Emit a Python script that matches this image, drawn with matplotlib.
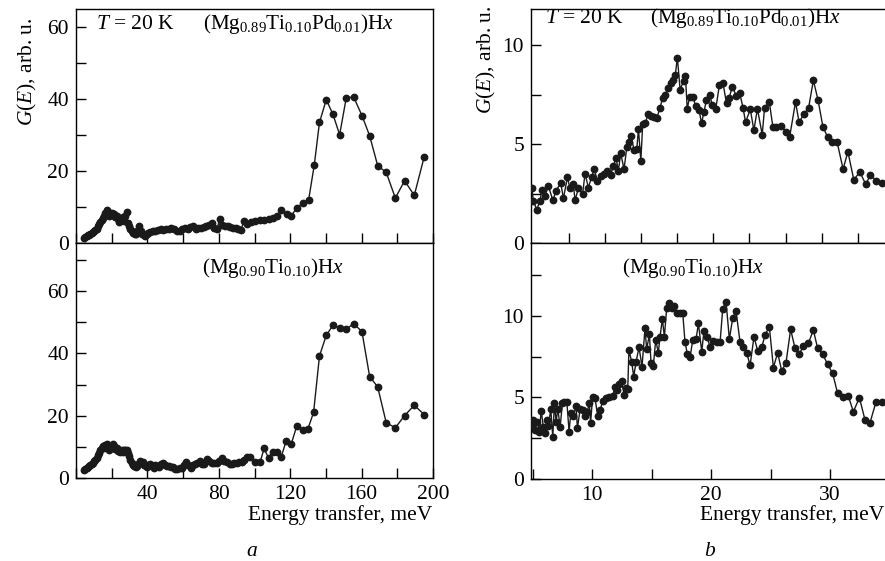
import numpy as np
import matplotlib
matplotlib.use('Agg')
import matplotlib.pyplot as plt
from matplotlib.ticker import MultipleLocator, FixedLocator

plt.rcParams['font.family'] = 'Liberation Serif'
plt.rcParams['mathtext.fontset'] = 'custom'
plt.rcParams['mathtext.rm'] = 'Liberation Serif'
plt.rcParams['mathtext.it'] = 'Liberation Serif:italic'
plt.rcParams['font.size'] = 15.5

# (Mg0.89Ti0.10Pd0.01)Hx, wide energy range (panel a, top)
tl_e = [4.5, 5.2, 6.0, 6.7, 7.4, 8.1, 8.8, 9.5, 10.2, 10.9, 11.6, 12.3, 13.0, 13.7,
        14.4, 15.1, 15.8, 16.5, 17.2, 17.9, 18.6, 19.3, 20.0, 20.7, 21.4, 22.1, 22.8,
        23.5, 24.2, 24.9, 25.6, 26.3, 27.0, 27.7, 28.4, 29.0, 29.7, 30.5, 31.3, 32.1,
        33.0, 33.8, 34.6, 35.4, 36.2, 37.0, 37.9, 38.8, 39.7, 40.6, 41.5, 43.0, 44.5,
        46.0, 47.5, 49.0, 50.5, 52.0, 53.5, 55.0, 56.5, 58.0, 59.5, 61.0, 62.5, 64.0,
        65.5, 67.0, 68.5, 70.0, 71.5, 73.0, 74.5, 76.0, 77.5, 79.0, 80.5, 82.0, 83.5,
        85.0, 86.5, 88.0, 89.5, 91.0, 92.5, 94.0, 96.0, 98.0, 100.4, 103.2, 105.4,
        107.9, 110.1, 112.5, 115.0, 118.0, 120.7, 123.7, 126.9, 130.3, 133.5, 136.4,
        140.2, 143.9, 147.7, 151.4, 155.5, 160.2, 164.5, 169.0, 173.8, 178.9, 184.1,
        189.5, 195.1]
tl_g = [1.5, 1.8, 2.0, 2.2, 2.3, 2.6, 2.8, 3.0, 3.2, 3.6, 4.0, 4.6, 5.2, 5.9,
        6.5, 7.0, 7.6, 8.4, 9.2, 8.0, 7.5, 8.2, 8.4, 7.8, 8.0, 7.3, 7.6,
        6.6, 5.8, 6.8, 6.4, 7.2, 6.2, 7.4, 8.6, 5.6, 4.6, 3.8, 3.2, 2.8,
        2.6, 2.4, 3.6, 4.6, 3.4, 2.6, 2.3, 2.0, 2.4, 2.8, 3.0, 3.2, 3.4,
        3.6, 3.8, 3.5, 3.9, 4.0, 4.2, 3.8, 3.4, 3.3, 3.8, 4.3, 4.0, 4.4,
        4.6, 3.9, 4.1, 4.3, 4.4, 4.8, 5.1, 5.5, 4.1, 4.0, 6.6, 5.0, 4.7,
        4.6, 4.5, 4.3, 4.2, 3.9, 3.6, 6.2, 5.2, 5.9, 6.2, 6.5, 6.4,
        6.7, 6.9, 7.4, 9.2, 8.1, 7.6, 9.8, 11.0, 11.9, 21.7, 33.5,
        39.8, 35.8, 30.1, 40.3, 40.6, 35.4, 29.8, 21.5, 19.6, 12.5, 17.3,
        13.2, 24.0]

# (Mg0.90Ti0.10)Hx, wide energy range (panel a, bottom)
bl_e = [4.5, 5.2, 5.9, 6.6, 7.3, 8.0, 8.7, 9.4, 10.1, 10.8, 11.5, 12.2, 12.9, 13.6,
        14.3, 15.0, 15.7, 16.4, 17.1, 17.8, 18.5, 19.2, 19.9, 20.6, 21.3, 22.0, 22.7,
        23.4, 24.1, 24.8, 25.5, 26.2, 26.9, 27.6, 28.3, 29.0, 29.7, 30.4, 31.1, 31.8,
        32.6, 33.4, 34.2, 35.0, 35.8, 36.6, 37.4, 38.2, 39.0, 39.8, 40.6, 41.5, 42.5,
        43.5, 44.5, 45.5, 46.5, 47.5, 48.6, 49.6, 50.8, 52.0, 53.2, 54.4, 55.6, 56.8,
        58.0, 59.3, 60.5, 61.7, 63.0, 64.3, 65.5, 66.7, 68.0, 69.2, 70.5, 71.8, 73.3,
        74.7, 76.1, 77.5, 78.9, 80.3, 81.7, 83.1, 84.5, 86.0, 87.3, 88.7, 90.1, 91.5,
        92.9, 94.3, 95.7, 97.6, 100.4, 103.2, 105.4, 107.9, 110.1, 112.5, 115.0,
        117.8, 120.6, 123.7, 126.9, 129.9, 133.1, 136.4, 140.2, 143.9, 147.7, 151.4,
        155.5, 160.2, 164.5, 169.0, 173.8, 178.9, 184.1, 189.5, 195.1]
bl_g = [2.6, 2.9, 3.2, 3.5, 3.9, 4.3, 4.6, 5.0, 5.5, 5.9, 6.6, 7.4, 8.2, 9.0,
        9.8, 10.3, 9.6, 10.6, 10.9, 9.8, 9.2, 9.9, 10.4, 11.0, 10.2, 9.4, 9.8,
        8.6, 8.9, 8.3, 9.0, 8.4, 9.2, 9.0, 9.1, 8.2, 7.0, 5.8, 4.8, 4.2,
        3.8, 3.6, 4.0, 4.6, 5.6, 4.8, 5.3, 4.3, 4.0, 3.7, 4.2, 4.5, 3.8,
        3.2, 4.2, 4.0, 3.7, 4.5, 5.0, 4.2, 3.9, 4.1, 3.7, 3.5, 3.0, 2.9,
        3.4, 3.4, 4.3, 5.3, 4.4, 3.4, 4.3, 4.6, 4.8, 5.7, 4.6, 4.6, 6.2,
        5.4, 5.0, 4.8, 5.0, 5.6, 6.4, 5.6, 5.3, 4.6, 4.6, 4.8, 5.0, 5.2,
        5.3, 6.0, 6.7, 6.9, 5.3, 5.3, 9.6, 6.4, 8.5, 8.5, 6.9,
        12.1, 11.0, 16.8, 15.5, 15.8, 21.1, 39.2, 45.8, 49.0, 48.2, 47.7,
        49.6, 47.0, 32.6, 29.3, 17.8, 16.2, 20.1, 23.4, 20.4]

# (Mg0.89Ti0.10Pd0.01)Hx, low energy range (panel b, top)
tr_e = [4.93, 5.07, 5.35, 5.63, 5.77, 6.05, 6.33, 6.7, 6.98, 7.37, 7.59, 7.93, 8.15,
        8.43, 8.57, 8.85, 9.21, 9.41, 9.69, 9.97, 10.19, 10.45, 10.73, 11.01, 11.29,
        11.57, 11.79, 12.02, 12.21, 12.41, 12.69, 12.92, 13.14, 13.28, 13.53, 13.76,
        13.9, 14.1, 14.26, 14.46, 14.74, 14.93, 15.2, 15.45, 15.71, 15.94, 16.16,
        16.41, 16.61, 16.83, 17.0, 17.17, 17.4, 17.7, 17.85, 18.0, 18.2, 18.5, 18.7,
        19.0, 19.2, 19.4, 19.6, 19.9, 20.1, 20.4, 20.7, 21.0, 21.3, 21.5, 21.8, 22.1,
        22.4, 22.7, 22.9, 23.3, 23.6, 23.9, 24.3, 24.5, 24.9, 25.2, 25.5, 25.9, 26.3,
        26.6, 27.1, 27.4, 27.8, 28.2, 28.6, 29.0, 29.4, 29.8, 30.2, 30.6, 31.1, 31.5,
        32.0, 32.5, 33.0, 33.4, 33.9, 34.4]
tr_g = [2.8, 2.12, 1.69, 2.12, 2.66, 2.37, 2.88, 2.17, 2.63, 3.05, 2.25, 3.31, 2.76,
        3.0, 2.15, 2.76, 2.49, 3.51, 2.8, 3.34, 3.73, 3.14, 3.39, 3.51, 3.64,
        3.44, 3.9, 4.29, 3.64, 4.53, 3.73, 4.83, 5.08, 5.42, 4.69, 4.75,
        5.76, 4.15, 6.02, 6.05, 6.53, 6.39, 6.36, 6.32, 6.83, 7.34, 7.5,
        7.85, 8.1, 8.25, 8.5, 9.37, 7.75, 8.2, 8.42, 6.78, 7.37, 7.37, 6.9,
        6.7, 6.05, 6.6, 7.2, 7.5, 6.95, 6.78, 7.97, 8.1, 7.05, 7.3, 7.9, 7.45,
        7.6, 6.8, 6.1, 6.75, 5.7, 6.78, 5.47, 6.83, 7.12, 5.85, 5.85, 5.9, 5.63,
        5.34, 7.12, 6.1, 6.5, 6.83, 8.22, 7.2, 5.88, 5.34, 5.08, 5.08, 3.73, 4.61,
        3.19, 3.59, 2.97, 3.44, 3.14, 3.05]

# (Mg0.90Ti0.10)Hx, low energy range (panel b, bottom)
br_e = [4.93, 5.07, 5.21, 5.41, 5.58, 5.72, 5.91, 6.05, 6.19, 6.33, 6.53, 6.7, 6.84,
        6.98, 7.12, 7.32, 7.51, 7.68, 7.88, 8.07, 8.21, 8.43, 8.66, 8.77, 9.0, 9.21,
        9.41, 9.6, 9.77, 9.88, 10.05, 10.25, 10.48, 10.67, 10.9, 11.18, 11.46, 11.74,
        11.93, 12.13, 12.3, 12.49, 12.69, 12.85, 13.0, 13.1, 13.33, 13.5, 13.7, 13.95,
        14.2, 14.45, 14.59, 14.82, 14.96, 15.15, 15.35, 15.57, 15.71, 15.91, 16.08,
        16.27, 16.5, 16.69, 16.92, 17.11, 17.39, 17.62, 17.81, 18.01, 18.24, 18.46,
        18.74, 18.94, 19.22, 19.41, 19.64, 19.92, 20.2, 20.48, 20.76, 20.98, 21.26,
        21.54, 21.82, 22.1, 22.44, 22.72, 23.0, 23.28, 23.61, 23.92, 24.26, 24.54,
        24.9, 25.24, 25.6, 25.94, 26.3, 26.69, 27.06, 27.42, 27.76, 28.18, 28.6,
        28.96, 29.38, 29.8, 30.22, 30.64, 31.12, 31.54, 31.96, 32.47, 32.94, 33.36,
        33.87, 34.34]
br_g = [3.31, 3.61, 3.0, 3.51, 2.9, 4.19, 3.2, 2.8, 3.61, 3.24, 4.27, 2.59, 4.64,
        3.51, 4.3, 3.2, 4.64, 4.74, 4.74, 2.9, 4.02, 3.86, 4.47, 3.1, 4.3, 4.2,
        3.86, 4.12, 4.64, 3.45, 5.04, 4.94, 3.84, 4.2, 4.78, 4.94, 5.04, 5.08,
        5.66, 5.45, 5.82, 6.02, 5.14, 5.55, 5.49, 7.9, 7.18, 6.27, 7.18, 8.06,
        6.88, 9.22, 7.94, 8.86, 7.08, 6.92, 8.51, 7.73, 8.71, 9.78, 8.71,
        10.45, 10.76, 10.45, 10.59, 10.18, 10.18, 10.18, 8.41, 7.63, 7.45, 8.51,
        8.55, 9.53, 7.8, 9.08, 8.71, 8.1, 8.47, 8.41, 8.37, 10.39, 10.86,
        8.57, 9.84, 10.29, 8.37, 8.1, 7.73, 6.96, 8.71, 7.86, 8.06, 8.82,
        9.33, 6.82, 7.73, 6.61, 7.12, 9.16, 8.0, 7.65, 8.16, 8.31, 9.12,
        8.0, 7.65, 7.02, 6.47, 5.24, 5.0, 5.08, 4.12, 4.98, 3.61, 3.45,
        4.73, 4.73]

title_pd = r'(Mg$_{0.89}$Ti$_{0.10}$Pd$_{0.01}$)H$x$'
title_ti = r'(Mg$_{0.90}$Ti$_{0.10}$)H$x$'

W, H = 885, 561
fig = plt.figure(figsize=(W / 100, H / 100), dpi=100)

def px_axes(x0, y0, x1, y1):
    # axes from pixel box (top-left origin)
    return fig.add_axes([x0 / W, 1 - y1 / H, (x1 - x0) / W, (y1 - y0) / H])

ax_tl = px_axes(76, 9, 433, 243)
ax_bl = px_axes(76, 243, 433, 478.3)
ax_tr = px_axes(531, 9, 885, 243)
ax_br = px_axes(531, 243, 885, 479)

for ax, e, g in [(ax_tl, tl_e, tl_g), (ax_bl, bl_e, bl_g),
                 (ax_tr, tr_e, tr_g), (ax_br, br_e, br_g)]:
    ax.plot(e, g, '-', color='#1a1a1a', lw=1.0, marker='o', ms=4.6,
            mfc='#1a1a1a', mec='#1a1a1a', zorder=3)
    ax.tick_params(which='both', direction='in', length=7, width=1,
                   top=False, right=False, labelsize=15.5, pad=5)
    for s in ax.spines.values():
        s.set_linewidth(1.0)

# panel a
for ax in (ax_tl, ax_bl):
    ax.set_xlim(0, 200)
    ax.xaxis.set_major_locator(MultipleLocator(40))
    ax.xaxis.set_minor_locator(MultipleLocator(20))
    ax.yaxis.set_major_locator(MultipleLocator(20))
    ax.yaxis.set_minor_locator(MultipleLocator(10))
ax_tl.set_ylim(0, 65)
ax_bl.set_ylim(0, 75.4)
ax_tl.tick_params(labelbottom=False)
ax_bl.set_xticks([40, 80, 120, 160, 200])

# panel b
for ax in (ax_tr, ax_br):
    ax.set_xlim(4.87, 34.62)
    ax.yaxis.set_major_locator(MultipleLocator(5))
    ax.yaxis.set_minor_locator(MultipleLocator(2.5))
    ax.spines['right'].set_visible(False)
ax_tr.set_ylim(0, 11.82)
ax_br.set_ylim(0, 14.45)
ax_tr.xaxis.set_major_locator(FixedLocator(np.arange(8.08, 34.5, 3.03)))
ax_tr.xaxis.set_minor_locator(FixedLocator([]))
ax_tr.tick_params(labelbottom=False)
ax_br.xaxis.set_major_locator(MultipleLocator(10))
ax_br.xaxis.set_minor_locator(MultipleLocator(5))

# labels and annotations
def ftext(x, y, s, **kw):
    fig.text(x / W, 1 - y / H, s, **kw)

ftext(96, 29, r'$T$ = 20 K', va='baseline', fontsize=15.5)
ftext(203, 29, title_pd, va='baseline', fontsize=15.2)
ftext(202, 273, title_ti, va='baseline', fontsize=15.2)
ftext(545, 23, r'$T$ = 20 K', va='baseline', fontsize=15.5)
ftext(650, 23, title_pd, va='baseline', fontsize=15.2)
ftext(622, 273, title_ti, va='baseline', fontsize=15.2)

ftext(27, 72, r'$G$($E$), arb. u.', rotation=90, ha='center', va='center', fontsize=15.5)
ftext(486, 60, r'$G$($E$), arb. u.', rotation=90, ha='center', va='center', fontsize=15.5)

ftext(432, 520, 'Energy transfer, meV', ha='right', va='baseline', fontsize=15.5)
ftext(884, 520, 'Energy transfer, meV', ha='right', va='baseline', fontsize=15.5)
ftext(252, 552, r'$a$', ha='center', va='center', fontsize=15.5)
ftext(710, 552, r'$b$', ha='center', va='center', fontsize=15.5)

plt.savefig('out.png', dpi=100)
